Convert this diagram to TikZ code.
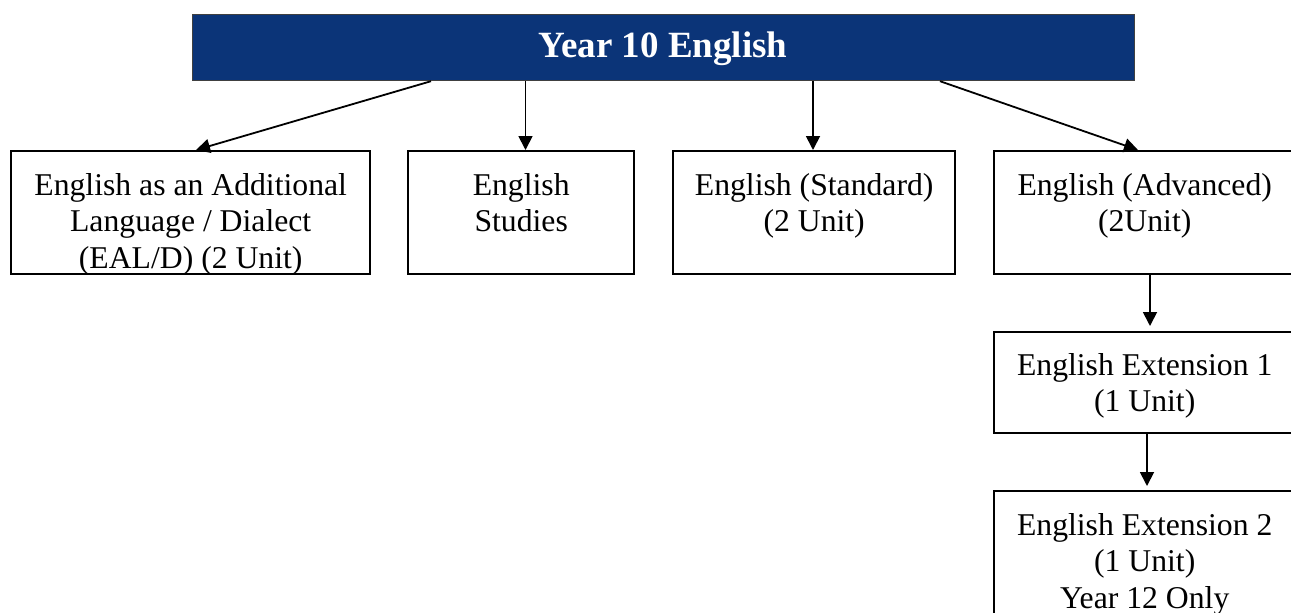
\documentclass[tikz,border=0pt]{standalone}
\usepackage{fontspec}
\setmainfont{Liberation Serif}
\usetikzlibrary{arrows.meta,calc}
\definecolor{navy}{RGB}{11,52,120}
\newcommand{\fl}{\rule{0pt}{30pt}}
\tikzset{
  box/.style={draw=black, line width=2.4pt, fill=white, rectangle, inner sep=0pt, anchor=north west},
  topbox/.style={draw=black!75, line width=1.2pt, fill=navy, rectangle, inner sep=0pt, anchor=north west},
  txt/.style={align=center, inner sep=0pt, anchor=north, font={\fontsize{31.7}{36.5}\selectfont}},
  ttl/.style={inner sep=0pt, anchor=base, text=white, font={\fontsize{37}{40}\selectfont\bfseries}},
  arr/.style={line width=1.8pt, -{Triangle[length=14pt,width=14pt]}}
}
\begin{document}
\begin{tikzpicture}[x=1pt,y=-1pt]
\useasboundingbox (0,0) rectangle (1291,613);
\clip (0,0) rectangle (1291,613);
% boxes
\node[topbox, minimum width=942, minimum height=66] (top) at (192,14) {};
\node[ttl] (topt) at (663,57.7) {Year 10 English};
\node[box, minimum width=359, minimum height=123] (b1) at (10,150) {};
\node[box, minimum width=226, minimum height=123] (b2) at (407,150) {};
\node[box, minimum width=282, minimum height=123] (b3) at (672,150) {};
\node[box, minimum width=301, minimum height=123] (b4) at (993,150) {};
\node[box, minimum width=301, minimum height=101] (b5) at (993,331) {};
\node[box, minimum width=301, minimum height=150] (b6) at (993,490) {};
% texts
\node[txt] (b1t) at ($(b1.north)+(0,15)$) {\fl English as an Additional\\Language / Dialect\\(EAL/D) (2 Unit)};
\node[txt] (b2t) at ($(b2.north)+(0,15)$) {\fl English\\Studies};
\node[txt] (b3t) at ($(b3.north)+(0,15)$) {\fl English (Standard)\\(2 Unit)};
\node[txt] (b4t) at ($(b4.north)+(0,15)$) {\fl English (Advanced)\\(2Unit)};
\node[txt] (b5t) at ($(b5.north)+(0,14)$) {\fl English Extension 1\\(1 Unit)};
\node[txt] (b6t) at ($(b6.north)+(0,15)$) {\fl English Extension 2\\(1 Unit)\\Year 12 Only};
% anchor coordinates for connectors
\coordinate (s1) at (431,0);
\coordinate (e1) at (196,0);
\coordinate (x2) at (525.5,0);
\coordinate (x3) at (813,0);
\coordinate (s4) at (940,0);
\coordinate (e4) at (1138,0);
\coordinate (x5) at (1150,0);
\coordinate (x6) at (1147,0);
% connectors
\draw[arr] (top.south -| s1) -- (b1.north -| e1);
\draw[arr] (top.south -| x2) -- (b2.north -| x2);
\draw[arr] (top.south -| x3) -- (b3.north -| x3);
\draw[arr] (top.south -| s4) -- (b4.north -| e4);
\draw[arr, shorten >=5pt] (b4.south -| x5) -- (b5.north -| x5);
\draw[arr, shorten >=4pt] (b5.south -| x6) -- (b6.north -| x6);
\end{tikzpicture}
\end{document}
